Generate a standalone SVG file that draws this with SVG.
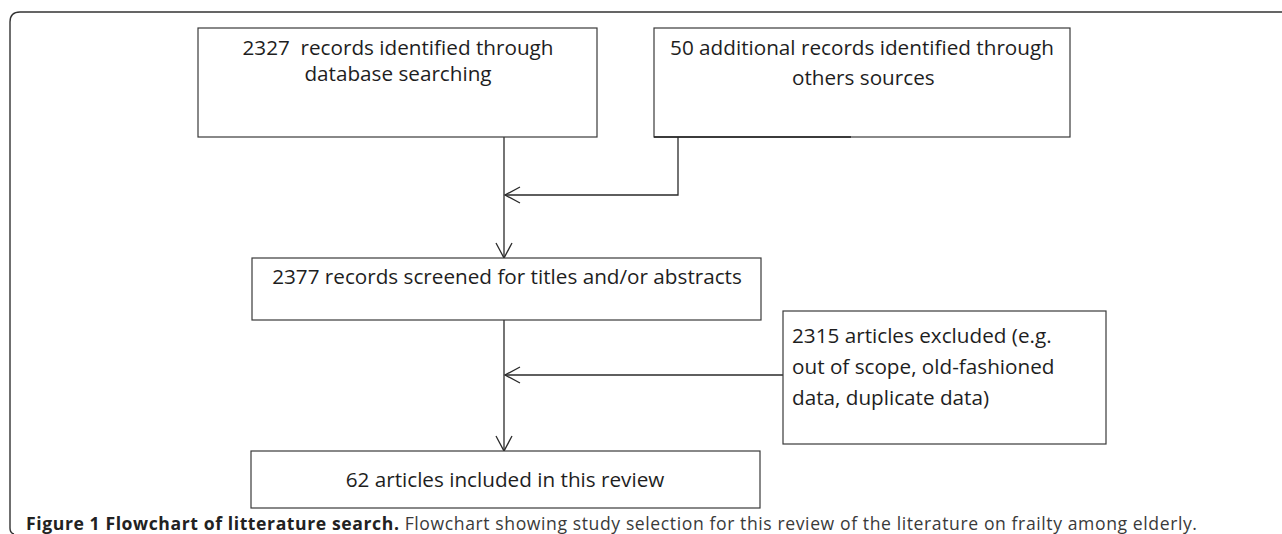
<svg xmlns="http://www.w3.org/2000/svg" width="1282" height="534" viewBox="0 0 1282 534">
<style>
.box{fill:#fff;stroke:#3a3a3a;stroke-width:1.2}
.t{font-family:"Open Sans","Liberation Sans",sans-serif;font-size:20.7px;fill:#1e1e1e}
.c{text-anchor:middle}
.ln{fill:none;stroke:#2a2a2a;stroke-width:1.3}
.cap{font-family:"Open Sans","Liberation Sans",sans-serif;font-size:17.6px;fill:#3a3a3a}
</style>
<defs>
<marker id="ah" markerUnits="userSpaceOnUse" viewBox="-17 -10 19 20" refX="0" refY="0" markerWidth="19" markerHeight="20" orient="auto">
<path d="M -15 -8 L 0 0 L -15 8" fill="none" stroke="#2a2a2a" stroke-width="1.3"/>
</marker>
</defs>
<rect width="1282" height="534" fill="#fff"/>
<path d="M 14 534 Q 10 533 10 528 L 10 22 Q 10 12 20 12 L 1282 12" fill="none" stroke="#333" stroke-width="1.4"/>
<g id="connectors">
<line class="ln" x1="504" y1="137" x2="504" y2="258" marker-end="url(#ah)"/>
<polyline class="ln" points="678,137 678,195 505,195" marker-end="url(#ah)"/>
<line class="ln" x1="504" y1="320" x2="504" y2="451" marker-end="url(#ah)"/>
<line class="ln" x1="783" y1="375" x2="505" y2="375" marker-end="url(#ah)"/>
</g>
<g id="n1">
<rect class="box" x="198" y="28" width="399" height="109"/>
<text class="t c" x="398" y="55" xml:space="preserve">2327  records identified through</text>
<text class="t c" x="398" y="81">database searching</text>
</g>
<g id="n2">
<rect class="box" x="654" y="28" width="416" height="109"/>
<line x1="654" y1="137" x2="851" y2="137" stroke="#222" stroke-width="1.6"/>
<text class="t c" x="862" y="55">50 additional records identified through</text>
<text class="t" x="792" y="85">others sources</text>
</g>
<g id="n3">
<rect class="box" x="252" y="258" width="509" height="62"/>
<text class="t c" x="507" y="284">2377 records screened for titles and/or abstracts</text>
</g>
<g id="n4">
<rect class="box" x="783" y="311" width="323" height="133"/>
<text class="t" x="792" y="343">2315 articles excluded (e.g.</text>
<text class="t" x="792" y="374">out of scope, old-fashioned</text>
<text class="t" x="792" y="405">data, duplicate data)</text>
</g>
<g id="n5">
<rect class="box" x="251" y="451" width="509" height="57"/>
<text class="t c" x="505" y="487">62 articles included in this review</text>
</g>
<text class="cap" x="26" y="530" textLength="1171" lengthAdjust="spacing"><tspan font-weight="bold" fill="#222">Figure 1 Flowchart of litterature search.</tspan> Flowchart showing study selection for this review of the literature on frailty among elderly.</text>
</svg>
